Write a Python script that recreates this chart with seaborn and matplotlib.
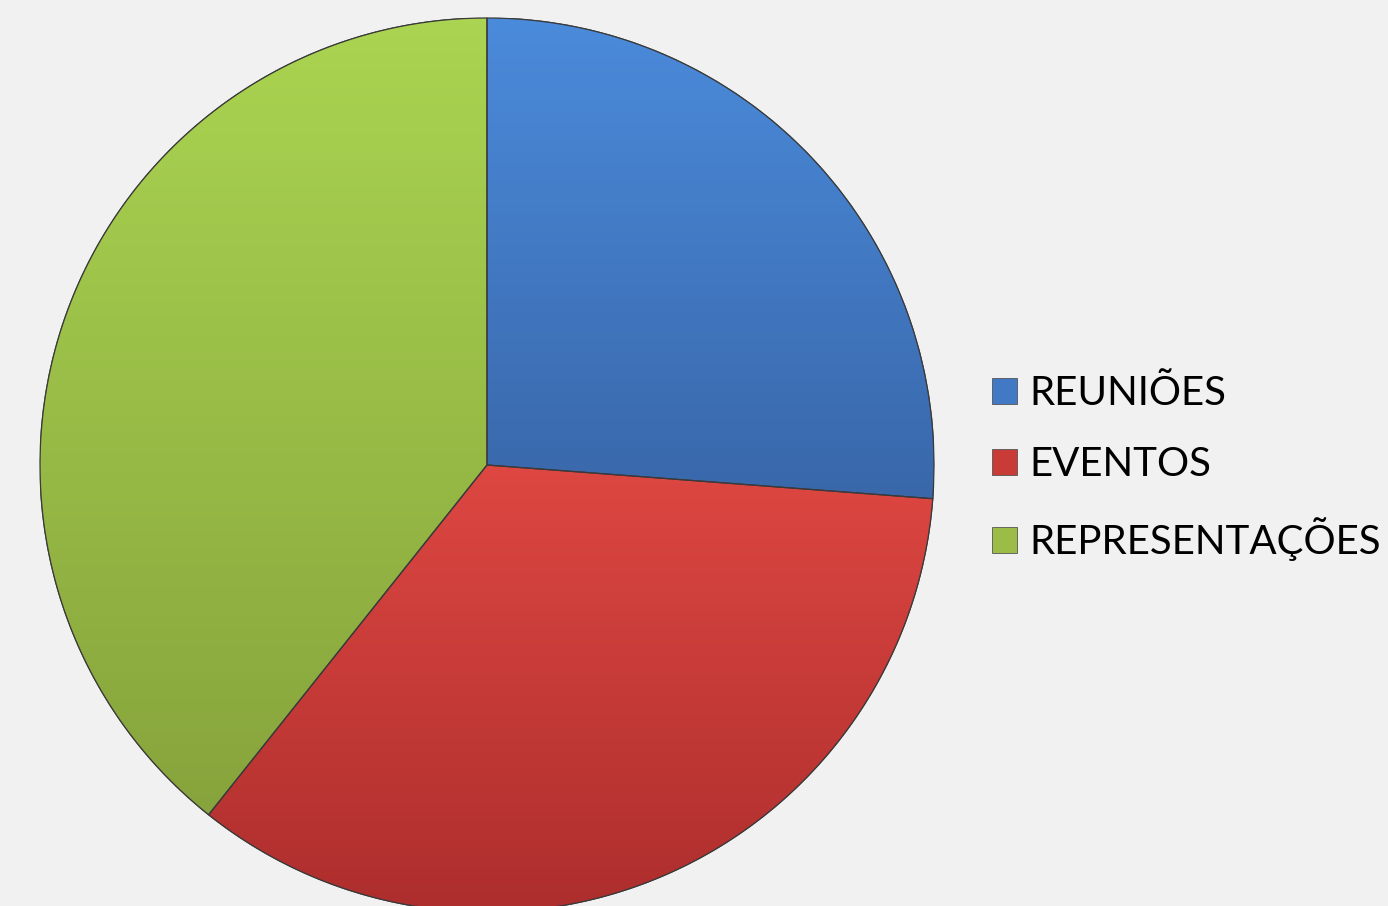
import matplotlib
matplotlib.use("Agg")
import numpy as np
import matplotlib.pyplot as plt
import seaborn as sns
from matplotlib.patches import Patch
from matplotlib.colors import LinearSegmentedColormap

categories = ["REUNIÕES", "EVENTOS", "REPRESENTAÇÕES"]
values = [26.2, 34.5, 39.3]
colors = ["#4279c4", "#c83b37", "#9bbd48"]
top_colors = ["#4b8bdb", "#de4742", "#aad451"]
bottom_colors = ["#3967aa", "#ad2e2d", "#87a43c"]

sns.set_theme(style="white")
plt.rcParams['font.family'] = ['Lato', 'DejaVu Sans']

W, H = 1388, 906
fig = plt.figure(figsize=(W / 100, H / 100), dpi=100)
fig.patch.set_facecolor("#f1f1f1")

cx, cy, r = 487, 906 - 465, 447
ax = fig.add_axes([(cx - r) / W, (cy - r) / H, 2 * r / W, 2 * r / H])
ax.set_facecolor("none")
wedges, _ = ax.pie(values, colors=colors, startangle=90, counterclock=False,
                   radius=1.0, wedgeprops=dict(edgecolor="#3a3a3a", linewidth=0.9))

# vertical shading inside each wedge
grad = np.linspace(1, 0, 256).reshape(-1, 1)
for w, tc, bc in zip(wedges, top_colors, bottom_colors):
    ang = np.radians(np.linspace(w.theta1, w.theta2, 200))
    ys = np.concatenate([np.sin(ang) * w.r, [0.0]])
    xs = np.concatenate([np.cos(ang) * w.r, [0.0]])
    cmap = LinearSegmentedColormap.from_list("g", [bc, tc])
    im = ax.imshow(grad, cmap=cmap, aspect="auto",
                   extent=(xs.min(), xs.max(), ys.min(), ys.max()),
                   zorder=w.get_zorder() + 0.1, interpolation="bilinear")
    im.set_clip_path(w)
    edge = plt.Polygon(np.column_stack([xs, ys]), closed=True, fill=False,
                       edgecolor="#3a3a3a", linewidth=0.9,
                       zorder=w.get_zorder() + 0.2)
    ax.add_patch(edge)

ax.set_xlim(-1, 1)
ax.set_ylim(-1, 1)
ax.set_aspect("equal")
ax.axis("off")

handles = [Patch(facecolor=c, edgecolor="#555555", linewidth=0.6) for c in colors]
leg = fig.legend(handles, categories, loc="center left",
                 bbox_to_anchor=(992 / W, 1 - 468 / H), frameon=False,
                 borderpad=0, borderaxespad=0,
                 fontsize=29, handlelength=0.62, handleheight=0.62,
                 handletextpad=0.3, labelspacing=0.84)
for t in leg.get_texts():
    t.set_color("#000000")

fig.savefig("out.png", dpi=100, facecolor=fig.get_facecolor())
